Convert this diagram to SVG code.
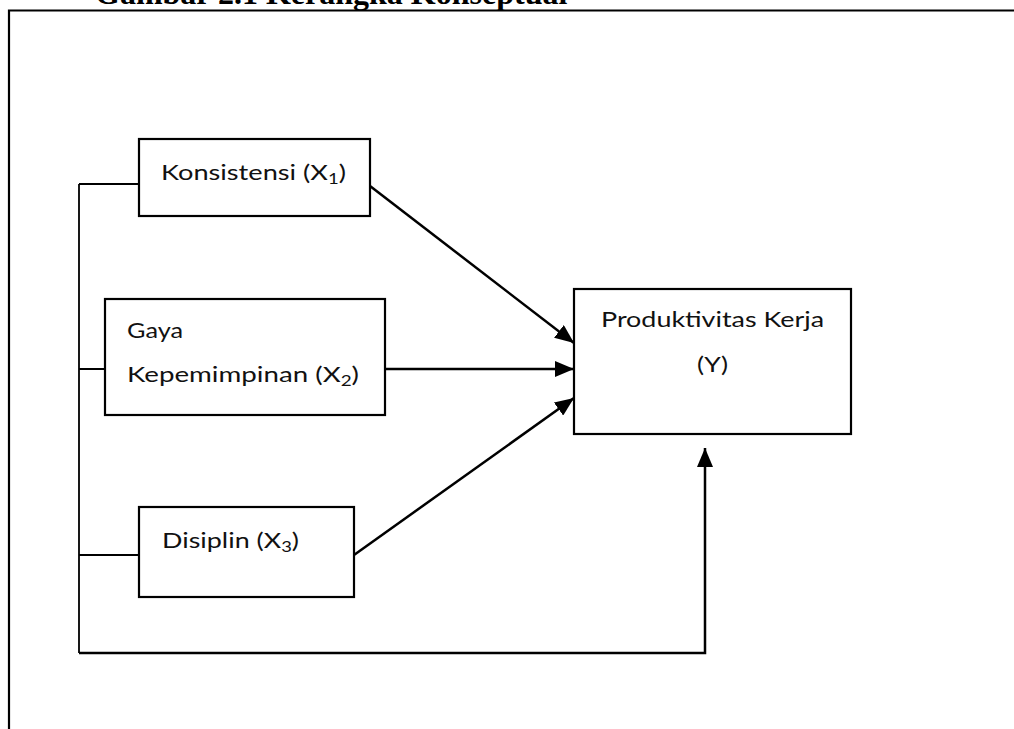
<svg xmlns="http://www.w3.org/2000/svg" width="1014" height="729" viewBox="0 0 1014 729">
<style>
.box{fill:#fff;stroke:#000;stroke-width:2.2}
.ln{fill:none;stroke:#000;stroke-width:1.8}
.ar{fill:none;stroke:#000;stroke-width:2.5;marker-end:url(#ah)}
.t{font-family:Lato,"Open Sans",sans-serif;font-size:22px;fill:#111}
.s{font-size:15px}
.title{font-family:"Liberation Serif","Times New Roman",serif;font-weight:bold;font-size:32px;fill:#000}
</style>
<defs>
<marker id="ah" markerUnits="userSpaceOnUse" markerWidth="20" markerHeight="16" refX="19" refY="8" orient="auto">
<path d="M0,0 L19,8 L0,16 Z" fill="#000"/>
</marker>
</defs>
<rect width="1014" height="729" fill="#fff"/>
<text class="title" x="95" y="4">Gambar 2.1 Kerangka Konseptual</text>
<g id="frame">
<path d="M9,729 V10.5 H1014" fill="none" stroke="#000" stroke-width="2.2"/>
</g>
<g id="connectors">
<path class="ln" d="M79,184 H139 M79,184 V653 M79,369 H105 M79,555 H139"/>
<path class="ar" d="M79,653 H705 V448"/>
<path class="ar" d="M370,186 L574,343"/>
<path class="ar" d="M385,369 H574"/>
<path class="ar" d="M354,555 L574,398"/>
</g>
<g id="x1">
<rect class="box" x="139" y="139" width="231" height="77"/>
<text class="t" x="161" y="180" textLength="185" lengthAdjust="spacingAndGlyphs">Konsistensi (X<tspan class="s" dy="4">1</tspan><tspan dy="-4">)</tspan></text>
</g>
<g id="x2">
<rect class="box" x="105" y="299" width="280" height="116"/>
<text class="t" x="127" y="338" textLength="56" lengthAdjust="spacingAndGlyphs">Gaya</text>
<text class="t" x="127" y="382" textLength="232" lengthAdjust="spacingAndGlyphs">Kepemimpinan (X<tspan class="s" dy="4">2</tspan><tspan dy="-4">)</tspan></text>
</g>
<g id="x3">
<rect class="box" x="139" y="507" width="215" height="90"/>
<text class="t" x="162" y="548" textLength="137" lengthAdjust="spacingAndGlyphs">Disiplin (X<tspan class="s" dy="4">3</tspan><tspan dy="-4">)</tspan></text>
</g>
<g id="y">
<rect class="box" x="574" y="289" width="277" height="145"/>
<text class="t" x="601" y="327" textLength="223" lengthAdjust="spacingAndGlyphs">Produktivitas Kerja</text>
<text class="t" x="697" y="372" textLength="31" lengthAdjust="spacingAndGlyphs">(Y)</text>
</g>
</svg>
